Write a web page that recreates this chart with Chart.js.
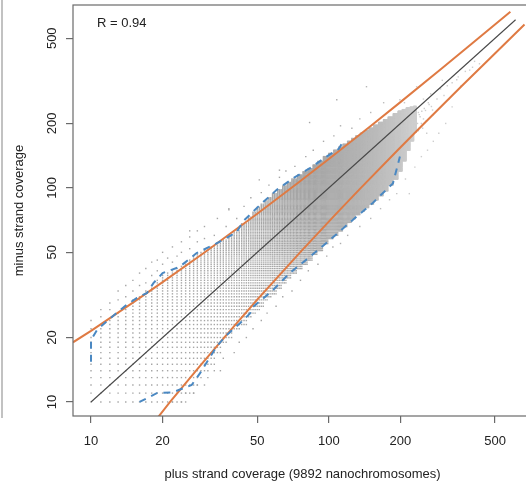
<!DOCTYPE html>
<html>
<head>
<meta charset="utf-8">
<title>strand coverage</title>
<script src="https://cdn.jsdelivr.net/npm/chart.js@4.4.1/dist/chart.umd.min.js"></script>
<style>
  html, body { margin: 0; padding: 0; background: #fff; overflow: hidden; }
  #wrap { position: relative; width: 526px; height: 491px; overflow: hidden; }
  #wrap canvas { position: absolute; left: 0; top: 0; }
  #edge { position: absolute; left: 1px; top: 0; width: 2px; height: 418px; background: #c2c2c2; }
</style>
</head>
<body>
<div id="wrap">
  <canvas id="coverageChart" width="545" height="491"></canvas>
  <div id="edge"></div>
</div>
<script>
// integer coverage lattice, in column blocks: first x of each block and the y range it covers
const blockX  = [10, 11, 12, 13, 14, 15, 16, 17, 18, 19, 20, 21, 22, 23, 24, 25, 26, 27, 28, 29, 30, 32, 34, 36, 38, 40, 43, 46, 48, 50, 52, 54, 56, 58, 61, 64, 67, 70, 74, 78, 82, 86, 90, 95, 100, 105, 110, 115, 120, 125, 130, 136, 142, 148, 155, 162, 170, 178, 187, 196, 204, 212, 220, 228];
const blockLo = [10, 10, 10, 10, 10, 10, 10, 10, 10, 10, 10, 10, 10, 10, 10, 10, 11, 11, 12, 13, 14, 15, 17, 19, 20, 22, 23, 25, 26, 27, 28, 30, 31, 32, 34, 36, 38, 40, 42, 44, 46, 49, 51, 55, 58, 60, 63, 66, 69, 72, 75, 78, 81, 84, 88, 92, 97, 103, 110, 120, 134, 150, 166, 182];
const blockHi = [20, 22, 24, 26, 28, 30, 31, 33, 35, 37, 39, 40, 41, 42, 43, 45, 46, 48, 49, 50, 51, 53, 55, 57, 59, 63, 68, 73, 77, 81, 84, 87, 90, 94, 98, 102, 106, 110, 115, 119, 123, 128, 133, 140, 145, 150, 155, 160, 165, 170, 175, 180, 185, 190, 196, 202, 208, 214, 222, 228, 232, 236, 238, 240];
const blockEnd = 234;

// scattered pairs outside the dense band
const strayX = [10, 10, 11, 11, 12, 12, 13, 13, 14, 14, 15, 15, 16, 16, 17, 17, 18, 18, 19, 19, 20, 20, 21, 22, 22, 23, 24, 24, 26, 26, 28, 28, 30, 30, 33, 34, 37, 38, 41, 44, 47, 52, 56, 62, 66, 72, 80, 86, 95, 105, 112, 125, 135, 150, 83, 108, 144, 170, 199, 234, 273, 300, 330, 345, 391, 402, 62, 51, 38, 26,
                22, 24, 25, 27, 28, 30, 31, 33, 35, 36, 40, 42, 45, 48, 52, 55, 60, 64, 70, 76, 82, 90, 98, 104, 112, 120, 135, 150, 165, 180, 193, 218, 210, 230, 245, 260, 275, 290, 310, 250, 270, 320, 220, 240, 200, 190,
                225, 228, 232, 238, 245, 250, 255, 262, 268, 275, 285, 295, 305, 315, 330, 350, 360, 375, 410, 430, 212, 216, 206, 208, 242, 248, 256, 252, 264, 258, 236, 240, 246, 238];
const strayY = [22, 24, 25, 27, 27, 29, 30, 33, 31, 35, 33, 37, 35, 40, 36, 42, 39, 45, 41, 46, 44, 50, 47, 45, 53, 48, 50, 56, 52, 59, 56, 63, 58, 66, 60, 72, 66, 80, 72, 82, 90, 95, 103, 112, 120, 126, 140, 150, 165, 175, 195, 190, 210, 225, 202, 258, 297, 250, 258, 297, 231, 318, 239, 320, 355, 366, 121, 109, 79, 63,
                10, 10, 11, 11, 12, 12, 13, 14, 14, 16, 17, 19, 20, 22, 24, 26, 28, 31, 33, 37, 41, 44, 48, 53, 55, 60, 66, 72, 80, 88, 94, 94, 110, 125, 140, 150, 165, 180, 200, 210, 240, 260, 170, 190, 160, 130,
                180, 240, 210, 225, 200, 260, 230, 250, 275, 220, 260, 290, 270, 300, 310, 330, 300, 350, 390, 380, 170, 230, 190, 250, 215, 190, 205, 235, 245, 180, 200, 220, 228, 185];

// quantile curves (blue, dashed)
const upperQX = [10, 10, 10.6, 11.6, 12.8, 14.1, 15.6, 17.2, 18.3, 20, 23.6, 27.8, 33.7, 40.9, 43.7, 51.2, 60.4, 70.8, 83.3, 97.8, 110, 116];
const upperQY = [15.4, 19.5, 21.7, 23.7, 26, 28.4, 30.6, 32.3, 35.9, 40, 42.8, 49.6, 55, 62, 70, 83, 97.9, 111, 123.6, 140, 152, 168];
const lowerQX = [16, 18.9, 22.1, 26.5, 28.7, 31.1, 33.7, 37.1, 42.3, 46.6, 48, 58.2, 68.6, 83.2, 101, 126, 153, 186, 199];
const lowerQY = [10, 11, 11.1, 12, 13.6, 15.7, 18.1, 20.5, 23.3, 25.9, 27.8, 33.3, 40.1, 47.6, 57.1, 70.8, 85.1, 105, 140];

// confidence bounds (orange)
const boundUpX  = [8.4, 10, 15, 20, 30, 50, 75, 100, 150, 200, 300, 400, 580];
const boundUpY  = [19.0, 21.5, 29.1, 36.3, 49.9, 75.7, 106.5, 136.4, 194.6, 251.5, 363, 473, 665];
const boundLowX = [19.0, 21.5, 29.1, 36.3, 49.9, 75.7, 106.5, 136.4, 194.6, 251.5, 363, 473, 665];
const boundLowY = [8.4, 10, 15, 20, 30, 50, 75, 100, 150, 200, 300, 400, 580];

// identity line
const diagX = [10, 610];
const diagY = [10, 610];

const xTicks = [10, 20, 50, 100, 200, 500];
const yTicks = [10, 20, 50, 100, 200, 500];
const xTitle = 'plus strand coverage (9892 nanochromosomes)';
const yTitle = 'minus strand coverage';
const rLabel = 'R = 0.94';

const FONT = '"Liberation Sans", Arial, Helvetica, sans-serif';

// build the point list
const cloud = [];
for (let i = 0; i < blockX.length; i++) {
  const end = i + 1 < blockX.length ? blockX[i + 1] : blockEnd;
  for (let x = blockX[i]; x < end; x++) {
    for (let y = blockLo[i]; y <= blockHi[i]; y++) cloud.push({x: x, y: y});
  }
}
strayX.forEach((x, i) => cloud.push({x: x, y: strayY[i]}));

const pairs = (xs, ys) => xs.map((x, i) => ({x: x, y: ys[i]}));

// fewer points per lattice cell at high coverage -> paler grey
function cloudColor(c) {
  const x = c.raw ? c.raw.x : 10;
  const t = Math.min(1, Math.max(0, (x - 85) / 140));
  const g = Math.round(166 + t * 40);
  return 'rgb(' + g + ',' + g + ',' + g + ')';
}

// box, rotated y labels, titles and the R value
const framePlugin = {
  id: 'frame',
  afterDraw(chart) {
    const {ctx, chartArea: a} = chart;
    const yScale = chart.scales.y;
    ctx.save();
    ctx.strokeStyle = '#6a6a6a';
    ctx.lineWidth = 1.2;
    ctx.strokeRect(a.left, a.top, a.right - a.left, a.bottom - a.top);

    ctx.fillStyle = '#222';
    ctx.font = '13px ' + FONT;
    ctx.textAlign = 'center';
    ctx.textBaseline = 'middle';
    yTicks.forEach(v => {
      ctx.save();
      ctx.translate(52, yScale.getPixelForValue(v));
      ctx.rotate(-Math.PI / 2);
      ctx.fillText(String(v), 0, 0);
      ctx.restore();
    });

    ctx.fillText(xTitle, (a.left + a.right) / 2, 474);
    ctx.save();
    ctx.translate(19, (a.top + a.bottom) / 2);
    ctx.rotate(-Math.PI / 2);
    ctx.fillText(yTitle, 0, 0);
    ctx.restore();

    ctx.textAlign = 'left';
    ctx.fillText(rLabel, a.left + 24, 23);
    ctx.restore();
  }
};

const ctx = document.getElementById('coverageChart').getContext('2d');

new Chart(ctx, {
  type: 'scatter',
  data: {
    datasets: [
      {
        data: cloud,
        pointStyle: 'rect',
        pointRadius: 1,
        pointBorderWidth: 0,
        pointBackgroundColor: cloudColor,
        order: 5
      },
      {
        data: pairs(diagX, diagY),
        showLine: true,
        borderColor: '#484848',
        borderWidth: 1.1,
        pointRadius: 0,
        order: 4
      },
      {
        data: pairs(boundUpX, boundUpY),
        showLine: true,
        borderColor: '#df7a43',
        borderWidth: 2,
        pointRadius: 0,
        order: 3
      },
      {
        data: pairs(boundLowX, boundLowY),
        showLine: true,
        borderColor: '#df7a43',
        borderWidth: 2,
        pointRadius: 0,
        order: 3
      },
      {
        data: pairs(upperQX, upperQY),
        showLine: true,
        borderColor: '#4a88c2',
        borderWidth: 2,
        borderDash: [7, 6],
        pointRadius: 0,
        order: 1
      },
      {
        data: pairs(lowerQX, lowerQY),
        showLine: true,
        borderColor: '#4a88c2',
        borderWidth: 2,
        borderDash: [7, 6],
        pointRadius: 0,
        order: 1
      }
    ]
  },
  options: {
    responsive: false,
    animation: false,
    events: [],
    layout: { padding: { left: 0, top: 5, right: 13, bottom: 0 } },
    plugins: { legend: { display: false }, tooltip: { enabled: false } },
    scales: {
      x: {
        type: 'logarithmic',
        position: 'bottom',
        min: 8.4,
        max: 715,
        bounds: 'data',
        afterBuildTicks: s => { s.ticks = xTicks.map(v => ({value: v})); },
        afterFit: s => { s.height = 75; },
        ticks: {
          callback: v => String(v),
          autoSkip: false,
          maxRotation: 0,
          padding: 11,
          color: '#222',
          font: { size: 13, family: FONT }
        },
        grid: { drawOnChartArea: false, drawTicks: true, tickLength: 7, color: '#6a6a6a', lineWidth: 1.2 },
        border: { display: false }
      },
      y: {
        type: 'logarithmic',
        position: 'left',
        min: 8.6,
        max: 715,
        bounds: 'data',
        afterBuildTicks: s => { s.ticks = yTicks.map(v => ({value: v})); },
        afterFit: s => { s.width = 73; },
        ticks: { display: false },
        grid: { drawOnChartArea: false, drawTicks: true, tickLength: 7, color: '#6a6a6a', lineWidth: 1.2 },
        border: { display: false }
      }
    }
  },
  plugins: [framePlugin]
});
</script>
</body>
</html>
